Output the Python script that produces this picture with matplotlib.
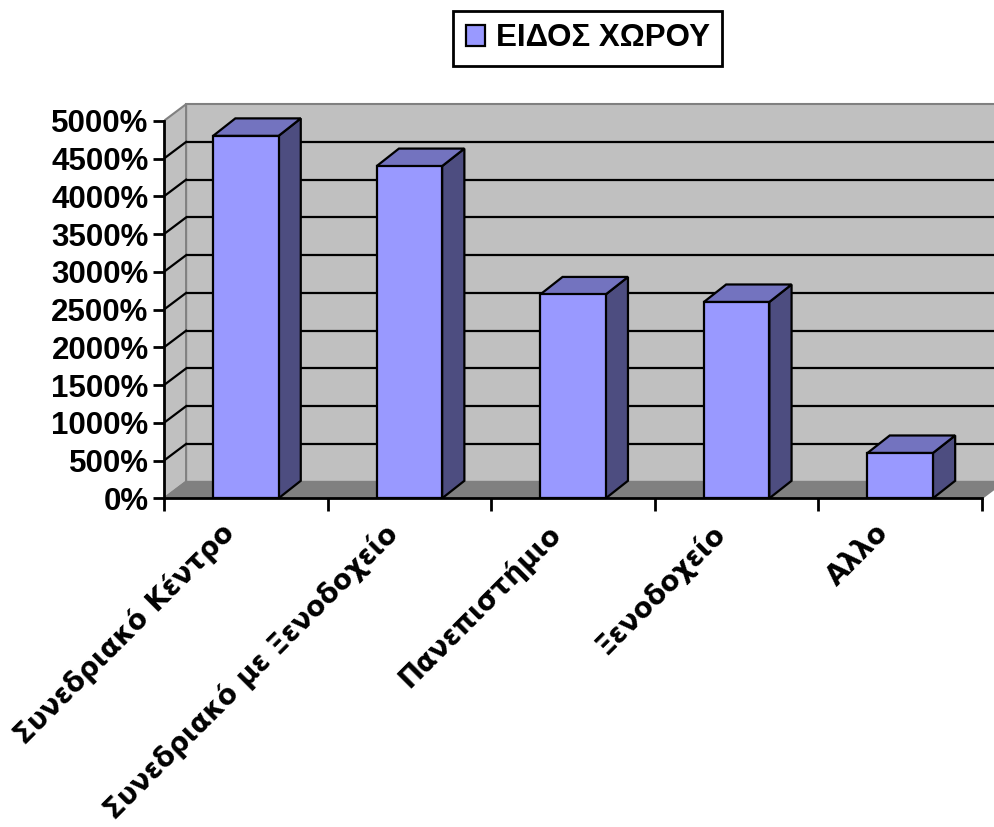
import matplotlib
matplotlib.use("Agg")
import matplotlib.pyplot as plt
from matplotlib.patches import Polygon
import numpy as np

plt.rcParams['font.family'] = ['Liberation Sans', 'DejaVu Sans']
plt.rcParams['font.weight'] = 'bold'

categories = ["Συνεδριακό Κέντρο", "Συνεδριακό με Ξενοδοχείο",
              "Πανεπιστήμιο", "Ξενοδοχείο", "Αλλο"]
values = [4800, 4400, 2700, 2600, 600]
series_name = "ΕΙΔΟΣ ΧΩΡΟΥ"
yticks = list(range(0, 5001, 500))
ytick_labels = [f"{v}%" for v in yticks]

# 3D look: depth offsets (category units, value units)
WALL_DX, WALL_DY = 0.135, 220
BAR_DX, BAR_DY = 0.136, 232
BAR_W = 0.4

FRONT = "#9999FF"
TOP = "#7373BF"
SIDE = "#4D4D80"
WALL = "#C0C0C0"
FLOOR = "#808080"
EDGE_GREY = "#808080"

W, H = 994, 827
fig = plt.figure(figsize=(W / 100, H / 100), dpi=100)

n = len(categories)
px_per_cat = 163.6
px_per_val = 37.75 / 500
xmax, ymax = n + 0.2, 5300
left_px, bottom_px = 164, 498.3
ax = fig.add_axes([left_px / W, (H - bottom_px) / H,
                   xmax * px_per_cat / W, ymax * px_per_val / H])
ax.set_xlim(0, xmax)
ax.set_ylim(0, ymax)
ax.set_facecolor("none")

ymaxv = yticks[-1]
# back wall
ax.add_patch(Polygon([(WALL_DX, WALL_DY), (n + WALL_DX, WALL_DY),
                      (n + WALL_DX, ymaxv + WALL_DY), (WALL_DX, ymaxv + WALL_DY)],
                     closed=True, facecolor=WALL, edgecolor=EDGE_GREY, lw=1.5, zorder=1))
# left wall
ax.add_patch(Polygon([(0, 0), (WALL_DX, WALL_DY), (WALL_DX, ymaxv + WALL_DY), (0, ymaxv)],
                     closed=True, facecolor=WALL, edgecolor=EDGE_GREY, lw=1.5, zorder=1))
# gridlines on walls
for v in yticks[1:-1]:
    ax.plot([WALL_DX, n + WALL_DX], [v + WALL_DY, v + WALL_DY], color="black", lw=1.6, zorder=2,
            solid_capstyle="butt")
    ax.plot([0, WALL_DX], [v, v + WALL_DY], color="black", lw=1.6, zorder=2)
# floor
ax.add_patch(Polygon([(0, 0), (n, 0), (n + WALL_DX, WALL_DY), (WALL_DX, WALL_DY)],
                     closed=True, facecolor=FLOOR, edgecolor=EDGE_GREY, lw=1.2, zorder=3))

# bars: front faces
centers = np.arange(n) + 0.5
bars = ax.bar(centers, values, width=BAR_W, color=FRONT, edgecolor="black",
              linewidth=1.6, zorder=5, label=series_name)
for c, v in zip(centers, values):
    x0, x1 = c - BAR_W / 2, c + BAR_W / 2
    ax.add_patch(Polygon([(x1, 0), (x1 + BAR_DX, BAR_DY), (x1 + BAR_DX, v + BAR_DY), (x1, v)],
                         closed=True, facecolor=SIDE, edgecolor="black", lw=1.6, zorder=4))
    ax.add_patch(Polygon([(x0, v), (x1, v), (x1 + BAR_DX, v + BAR_DY), (x0 + BAR_DX, v + BAR_DY)],
                         closed=True, facecolor=TOP, edgecolor="black", lw=1.6, zorder=4))

# axes
for s in ("top", "right"):
    ax.spines[s].set_visible(False)
ax.spines["left"].set_bounds(0, ymaxv)
ax.spines["bottom"].set_bounds(0, n)
for s in ("left", "bottom"):
    ax.spines[s].set_linewidth(2)
    ax.spines[s].set_zorder(6)
ax.set_yticks(yticks)
ax.set_yticklabels(ytick_labels, fontsize=22.5, fontweight="bold")
ax.tick_params(axis="y", length=8, width=2, pad=3)
ax.set_xticks(np.arange(n + 1))
ax.set_xticklabels([])
ax.tick_params(axis="x", length=9, width=2)

for c, lab in zip(centers, categories):
    ax.text(c - 0.16, -270, lab, rotation=45, ha="right", va="top",
            rotation_mode="anchor", fontsize=19.8, fontweight="bold",
            family=["DejaVu Sans"], clip_on=False)

leg = ax.legend(handles=[bars], labels=[series_name], loc="upper left",
                bbox_to_anchor=(453 / W, 1 - 11 / H), bbox_transform=fig.transFigure,
                fancybox=False, framealpha=1, edgecolor="black", fontsize=22.5,
                handlelength=0.62, handleheight=0.62, handletextpad=0.35,
                borderpad=0.4, borderaxespad=0)
leg.get_frame().set_linewidth(2)
for t in leg.get_texts():
    t.set_fontweight("bold")

fig.savefig("out.png", dpi=100)
